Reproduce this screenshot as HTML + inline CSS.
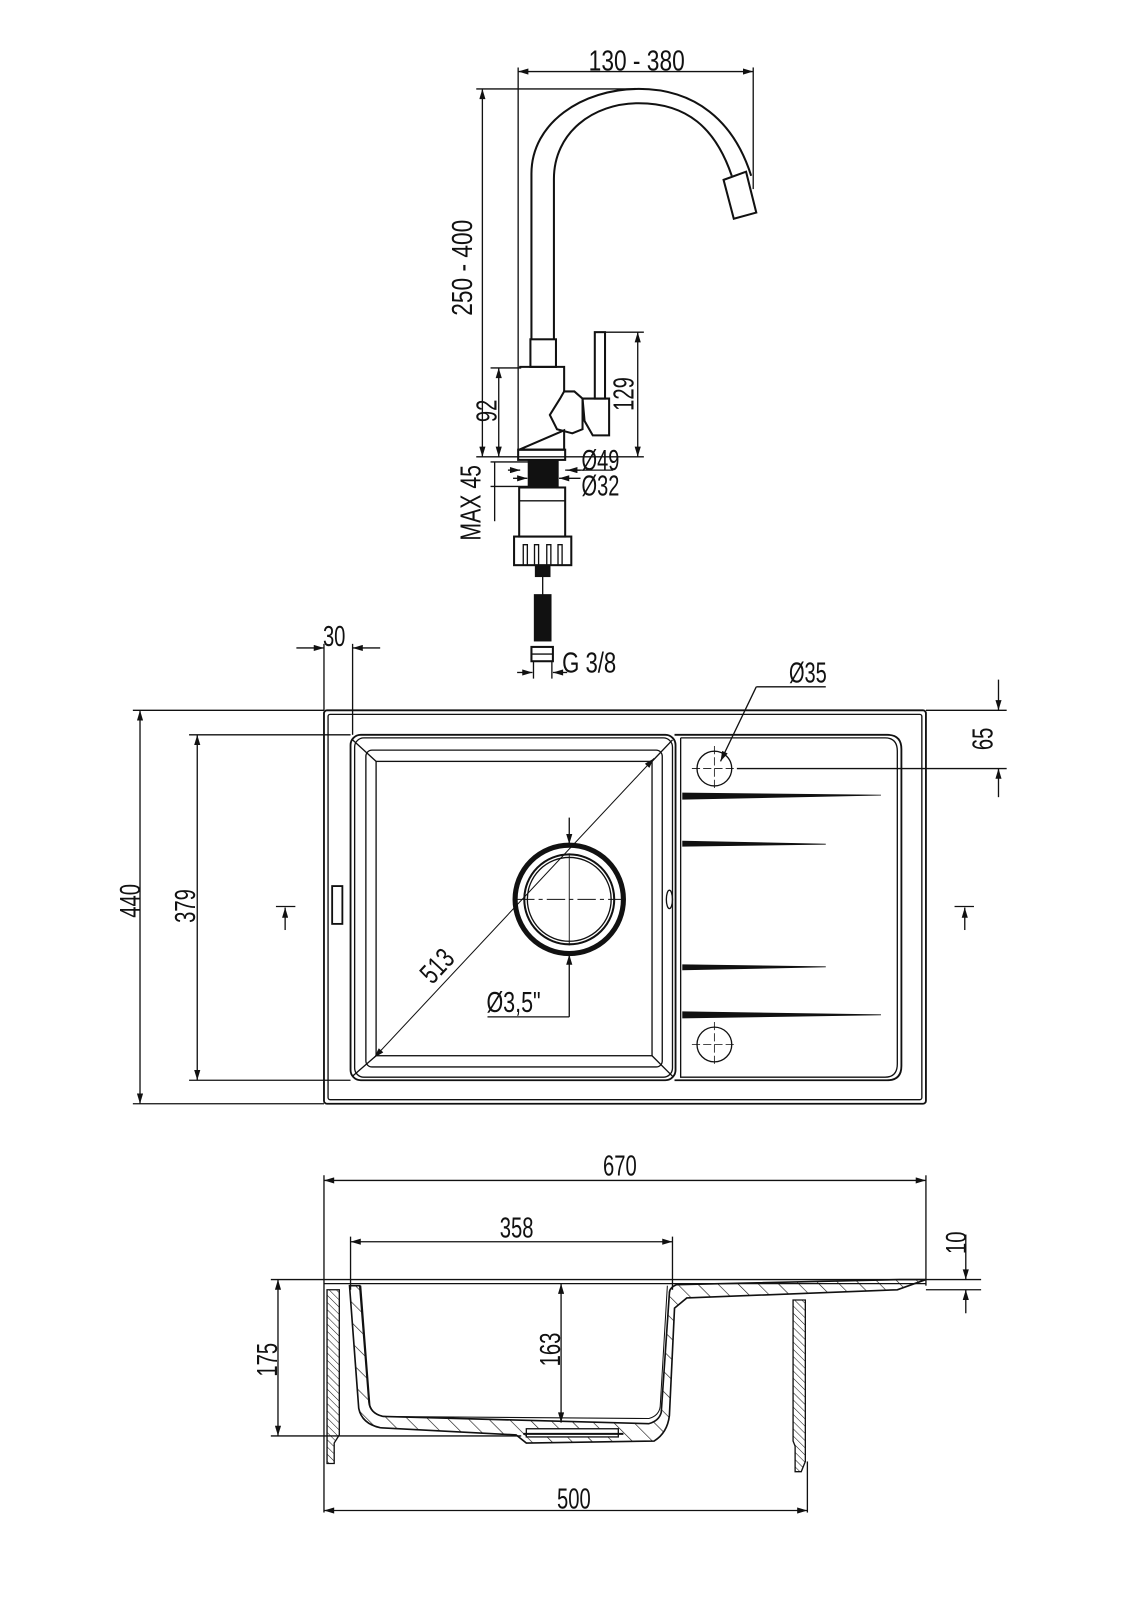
<!DOCTYPE html>
<html><head><meta charset="utf-8"><style>
html,body{margin:0;padding:0;background:#fff}
svg{display:block}
text{font-family:"Liberation Sans Narrow","Liberation Sans",sans-serif;font-size:28px;fill:#111}
</style></head><body>
<svg width="1131" height="1600" viewBox="0 0 1131 1600" xmlns="http://www.w3.org/2000/svg">
<defs>
<marker id="a" viewBox="0 0 10 6" refX="10" refY="3" markerWidth="14" markerHeight="6" orient="auto-start-reverse" markerUnits="userSpaceOnUse"><path d="M0,0L10,3L0,6z" fill="#111"/></marker>
<pattern id="h" width="5" height="5" patternUnits="userSpaceOnUse" patternTransform="rotate(-45)"><line x1="0" y1="0" x2="0" y2="5" stroke="#111" stroke-width="1"/></pattern>
<pattern id="h2" width="14" height="14" patternUnits="userSpaceOnUse" patternTransform="rotate(-45)"><line x1="0" y1="0" x2="0" y2="14" stroke="#111" stroke-width="1.2"/></pattern>
</defs>
<g transform="scale(1.022)">
<g fill="none" stroke="#111" stroke-width="1.3">
<line x1="507" y1="66" x2="507" y2="450"/>
<line x1="737" y1="66" x2="737" y2="185"/>
<line x1="507" y1="70" x2="737" y2="70" marker-start="url(#a)" marker-end="url(#a)"/>
<line x1="466" y1="87" x2="630" y2="87"/>
<line x1="472" y1="87" x2="472" y2="447" marker-start="url(#a)" marker-end="url(#a)"/>
<line x1="466" y1="447" x2="630" y2="447"/>
<line x1="480" y1="360" x2="510" y2="360"/>
<line x1="488" y1="360" x2="488" y2="447" marker-start="url(#a)" marker-end="url(#a)"/>
<line x1="592" y1="325" x2="630" y2="325"/>
<line x1="624" y1="325" x2="624" y2="447" marker-start="url(#a)" marker-end="url(#a)"/>
<path d="M520,332 V170 C520,120 570,87 625,87 C680,87 718,118 735,172" stroke-width="2"/>
<path d="M542,332 V175 C542,130 580,101 625,101 C672,101 700,125 716,172" stroke-width="2"/>
<path d="M708,176 L730,168 L740,208 L718,214 Z" stroke-width="2"/>
<rect x="519" y="332" width="25" height="27" stroke-width="2"/>
<path d="M508,359 H552 V383 M552,421 V440 H508 Z" stroke-width="2"/>
<path d="M552,383 L562,383 L570,390 L570,420 L560,424 L545,420 L538,406 L548,390 Z" stroke-width="2"/>
<path d="M570,390 H596 V426 H580 L572,412 Z" stroke-width="2"/>
<rect x="582" y="325" width="10" height="65" stroke-width="2"/>
<rect x="507" y="440" width="46" height="10" stroke-width="2"/>
<rect x="517" y="450" width="29" height="27" fill="#111"/>
<line x1="480" y1="452" x2="518" y2="452"/><line x1="480" y1="476" x2="518" y2="476"/>
<line x1="484" y1="452" x2="484" y2="510"/>
<line x1="497" y1="460" x2="509" y2="460" marker-end="url(#a)"/>
<line x1="568" y1="460" x2="555" y2="460" marker-end="url(#a)"/>
<line x1="502" y1="468" x2="516" y2="468" marker-end="url(#a)"/>
<line x1="568" y1="468" x2="547" y2="468" marker-end="url(#a)"/>
<line x1="553" y1="460" x2="600" y2="460"/>
<rect x="508" y="477" width="45" height="48" stroke-width="2"/>
<line x1="508" y1="490" x2="553" y2="490"/>
<rect x="503" y="525" width="56" height="28" stroke-width="2"/>
<path d="M512,553 V533 h4 V553 M523,553 V533 h4 V553 M535,553 V533 h4 V553 M546,553 V533 h4 V553"/>
<rect x="524" y="553" width="14" height="11" fill="#111"/>
<line x1="531" y1="564" x2="531" y2="582"/>
<rect x="523" y="582" width="16" height="45" fill="#111"/>
<rect x="520" y="633" width="21" height="14" stroke-width="2"/>
<line x1="520" y1="640" x2="541" y2="640"/>
<line x1="522" y1="647" x2="522" y2="664"/><line x1="540" y1="647" x2="540" y2="664"/>
<line x1="506" y1="658" x2="521" y2="658" marker-end="url(#a)"/>
<line x1="555" y1="658" x2="541" y2="658" marker-end="url(#a)"/>

<rect x="317" y="695" width="589" height="385" rx="3" stroke-width="1.8"/>
<rect x="321" y="699" width="581" height="377" rx="2"/>
<rect x="343" y="719" width="318" height="338" rx="10" stroke-width="1.8"/>
<rect x="347" y="722" width="311" height="332" rx="9"/>
<rect x="358" y="734" width="290" height="310" rx="6"/>
<rect x="368" y="745" width="270" height="288"/>
<path d="M345,724 L368,745 M658,724 L638,745 M345,1053 L368,1033 M658,1053 L638,1033"/>
<path d="M660,719 H868 Q882,719 882,733 V1043 Q882,1057 868,1057 H660" stroke-width="1.8"/>
<path d="M666,722 H866 Q878,722 878,735 V1041 Q878,1054 866,1054 H666 V722"/>
<rect x="325" y="867" width="10" height="37" stroke-width="1.8"/>
<ellipse cx="655" cy="880" rx="3" ry="9"/>
<path d="M668,776 L862,778 L668,782 Z" fill="#111" stroke-width="0.8"/>
<path d="M668,823 L808,826 L668,828 Z" fill="#111" stroke-width="0.8"/>
<path d="M668,944 L808,946 L668,949 Z" fill="#111" stroke-width="0.8"/>
<path d="M668,990 L862,993 L668,996 Z" fill="#111" stroke-width="0.8"/>
<circle cx="699" cy="752" r="17"/><circle cx="699" cy="1022" r="17"/>
<path d="M677,752 H721 M699,730 V774 M677,1022 H721 M699,1000 V1044" stroke-width="0.8" stroke-dasharray="8 3"/>
<line x1="721" y1="752" x2="985" y2="752"/>
<circle cx="557" cy="880" r="53" stroke-width="5"/>
<circle cx="557" cy="880" r="44" stroke-width="2"/>
<circle cx="557" cy="880" r="41"/>
<path d="M505,880 H610" stroke-dasharray="18 4 4 4" stroke-width="0.9"/>
<line x1="557" y1="835" x2="557" y2="925" stroke-width="0.9"/>
<line x1="557" y1="800" x2="557" y2="826" marker-end="url(#a)"/>
<line x1="557" y1="995" x2="557" y2="934" marker-end="url(#a)"/>
<line x1="477" y1="995" x2="557" y2="995"/>
<line x1="366" y1="1035" x2="640" y2="742" stroke-width="1" marker-start="url(#a)" marker-end="url(#a)"/>
<line x1="317" y1="630" x2="317" y2="695"/><line x1="345" y1="630" x2="345" y2="719"/>
<line x1="290" y1="634" x2="317" y2="634" marker-end="url(#a)"/>
<line x1="372" y1="634" x2="345" y2="634" marker-end="url(#a)"/>
<line x1="705" y1="745" x2="740" y2="672" marker-start="url(#a)"/>
<line x1="740" y1="672" x2="808" y2="672"/>
<line x1="906" y1="695" x2="985" y2="695"/>
<line x1="977" y1="665" x2="977" y2="695" marker-end="url(#a)"/>
<line x1="977" y1="780" x2="977" y2="752" marker-end="url(#a)"/>
<line x1="130" y1="695" x2="317" y2="695"/><line x1="130" y1="1080" x2="317" y2="1080"/>
<line x1="137" y1="695" x2="137" y2="1080" marker-start="url(#a)" marker-end="url(#a)"/>
<line x1="185" y1="719" x2="343" y2="719"/><line x1="185" y1="1057" x2="343" y2="1057"/>
<line x1="193" y1="719" x2="193" y2="1057" marker-start="url(#a)" marker-end="url(#a)"/>
<line x1="270" y1="887" x2="289" y2="887"/>
<line x1="279" y1="910" x2="279" y2="888" marker-end="url(#a)"/>
<line x1="934" y1="887" x2="953" y2="887"/>
<line x1="944" y1="910" x2="944" y2="888" marker-end="url(#a)"/>

<line x1="317" y1="1150" x2="317" y2="1480"/><line x1="906" y1="1150" x2="906" y2="1258"/>
<line x1="317" y1="1155" x2="906" y2="1155" marker-start="url(#a)" marker-end="url(#a)"/>
<line x1="343" y1="1210" x2="343" y2="1262"/><line x1="658" y1="1210" x2="658" y2="1262"/>
<line x1="343" y1="1215" x2="658" y2="1215" marker-start="url(#a)" marker-end="url(#a)"/>
<line x1="790" y1="1430" x2="790" y2="1480"/>
<line x1="317" y1="1478" x2="790" y2="1478" marker-start="url(#a)" marker-end="url(#a)"/>
<line x1="265" y1="1252" x2="960" y2="1252"/>
<line x1="906" y1="1262" x2="960" y2="1262"/>
<line x1="945" y1="1208" x2="945" y2="1252" marker-end="url(#a)"/>
<line x1="945" y1="1285" x2="945" y2="1262" marker-end="url(#a)"/>
<line x1="265" y1="1405" x2="510" y2="1405"/>
<line x1="272" y1="1252" x2="272" y2="1405" marker-start="url(#a)" marker-end="url(#a)"/>
<line x1="549" y1="1256" x2="549" y2="1392" marker-start="url(#a)" marker-end="url(#a)"/>
<line x1="317" y1="1256" x2="906" y2="1256"/>
<path d="M320,1262 H332 V1404 L327,1412 V1432 H320 Z" fill="url(#h)"/>
<path d="M342,1258 L351,1378 Q354,1393 372,1397 L505,1404 L515,1412 L640,1410 Q653,1402 655,1385 L660,1280 L672,1270 L878,1262 L906,1252 L880,1252 L662,1257 Q655,1260 655,1265 L647,1382 Q645,1390 635,1393 L375,1386 Q362,1383 361,1372 L352,1258 Z" fill="url(#h2)" stroke-width="1.6"/>
<path d="M353,1258 L362,1375 Q365,1385 378,1386 L635,1388 Q645,1385 646,1376 L653,1258" stroke-width="1"/>
<rect x="515" y="1398" width="90" height="8" fill="#fff"/>
<line x1="512" y1="1403" x2="610" y2="1403" stroke-width="2"/>
<path d="M776,1272 H788 V1430 L784,1440 H778 V1415 L776,1410 Z" fill="url(#h)"/>
</g>
<g>
<text x="576" y="69" textLength="94" lengthAdjust="spacingAndGlyphs">130 - 380</text>
<text transform="translate(462,309) rotate(-90)" textLength="94" lengthAdjust="spacingAndGlyphs">250 - 400</text>
<text transform="translate(486,413) rotate(-90)" textLength="22" lengthAdjust="spacingAndGlyphs">92</text>
<text transform="translate(620,402) rotate(-90)" textLength="33" lengthAdjust="spacingAndGlyphs">129</text>
<text x="569" y="460" textLength="37" lengthAdjust="spacingAndGlyphs">Ø49</text>
<text x="569" y="485" textLength="37" lengthAdjust="spacingAndGlyphs">Ø32</text>
<text transform="translate(470,529) rotate(-90)" textLength="74" lengthAdjust="spacingAndGlyphs">MAX 45</text>
<text x="550" y="658" textLength="53" lengthAdjust="spacingAndGlyphs">G 3/8</text>
<text x="316" y="632" textLength="22" lengthAdjust="spacingAndGlyphs">30</text>
<text x="772" y="668" textLength="37" lengthAdjust="spacingAndGlyphs">Ø35</text>
<text transform="translate(971,734) rotate(-90)" textLength="22" lengthAdjust="spacingAndGlyphs">65</text>
<text transform="translate(137,898) rotate(-90)" textLength="33" lengthAdjust="spacingAndGlyphs">440</text>
<text transform="translate(191,903) rotate(-90)" textLength="33" lengthAdjust="spacingAndGlyphs">379</text>
<text transform="translate(423,964) rotate(-47)" textLength="34" lengthAdjust="spacingAndGlyphs">513</text>
<text x="476" y="990" textLength="53" lengthAdjust="spacingAndGlyphs">Ø3,5"</text>
<text x="590" y="1150" textLength="33" lengthAdjust="spacingAndGlyphs">670</text>
<text x="489" y="1211" textLength="33" lengthAdjust="spacingAndGlyphs">358</text>
<text transform="translate(945,1227) rotate(-90)" textLength="22" lengthAdjust="spacingAndGlyphs">10</text>
<text transform="translate(271,1347) rotate(-90)" textLength="33" lengthAdjust="spacingAndGlyphs">175</text>
<text transform="translate(548,1337) rotate(-90)" textLength="33" lengthAdjust="spacingAndGlyphs">163</text>
<text x="545" y="1476" textLength="33" lengthAdjust="spacingAndGlyphs">500</text>
</g>
</g>
</svg>
</body></html>
